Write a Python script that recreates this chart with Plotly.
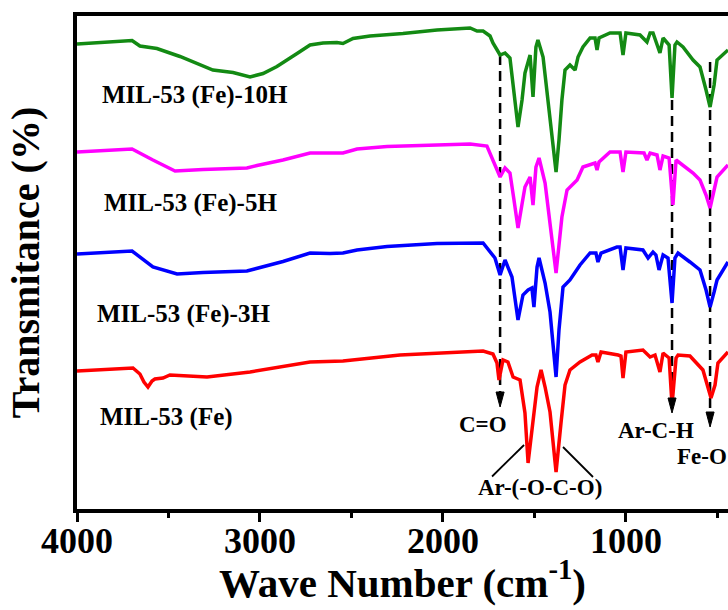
import plotly.graph_objects as go

# ---------------- data (wavenumber cm^-1, transmittance a.u., offset) ----------------
wn_10h = [4000, 3699, 3656, 3563, 3437, 3344, 3257, 3147, 3054, 2983, 2907, 2797, 2726, 2655, 2579,
          2546, 2491, 2398, 2218, 2032, 1851, 1813, 1780,
          1742, 1726, 1687, 1660, 1633, 1611, 1589, 1567, 1551, 1523, 1507, 1491, 1480, 1452, 1425,
          1403, 1381, 1365, 1349, 1332, 1305, 1277, 1261, 1234, 1195, 1168, 1157, 1146, 1086, 1031,
          1015, 999, 922, 884, 867, 851, 813, 796, 763, 747, 731, 720, 687, 632, 594, 561, 539, 517,
          501, 441]
tr_10h = [93.0, 93.7, 92.6, 92.1, 90.5, 89.1, 87.8, 87.3, 86.4, 87.1, 88.5, 91.1, 92.8, 93.2, 93.3,
          93.1, 94.1, 94.6, 95.1, 95.8, 96.2, 95.6, 95.6,
          94.6, 93.2, 90.8, 91.2, 90.2, 83.8, 76.4, 81.8, 87.2, 90.8, 82.4, 92.4, 93.8, 90.4, 81.8,
          73.8, 67.4, 73.8, 81.8, 87.8, 88.8, 87.8, 90.4, 92.4, 94.2, 94.2, 91.8, 94.2, 95.2, 95.2,
          90.8, 95.2, 94.8, 93.4, 95.2, 95.2, 91.2, 94.2, 92.8, 82.2, 92.8, 93.4, 92.4, 89.8, 88.4,
          83.8, 80.4, 84.8, 89.8, 91.8]

wn_5h = [4000, 3699, 3585, 3464, 3311, 3071, 3016, 2874, 2726, 2617, 2546, 2469, 2305, 2032, 1851,
         1759, 1726, 1687, 1660, 1633,
         1611, 1589, 1567, 1551, 1523, 1507, 1491, 1474, 1441, 1425, 1403, 1381, 1365, 1349, 1321,
         1266, 1234, 1168, 1157, 1146, 1086, 1031, 1015, 999, 900, 884, 867, 829, 813, 796, 763,
         742, 725, 687, 632, 594, 561, 539, 517, 501, 441]
tr_5h = [71.4, 72.0, 69.8, 67.6, 67.9, 68.2, 68.7, 69.8, 71.2, 71.3, 71.2, 72.0, 72.5, 72.8, 73.0,
         72.6, 69.8, 66.4, 68.2, 67.2,
         61.8, 56.2, 61.0, 64.4, 66.4, 60.8, 68.4, 70.2, 65.2, 60.4, 53.8, 47.2, 52.8, 58.4, 63.8,
         65.8, 68.4, 69.2, 67.8, 69.4, 71.4, 71.4, 67.4, 71.4, 71.2, 69.8, 71.2, 70.8, 67.8, 70.6,
         70.2, 60.8, 69.8, 68.8, 67.2, 65.8, 62.8, 60.2, 63.4, 66.4, 68.8]

wn_3h = [4000, 3699, 3585, 3453, 3311, 3071, 2874, 2726, 2617, 2546, 2469, 2305, 2032, 1851, 1780,
         1715, 1687, 1660, 1622,
         1589, 1562, 1534, 1513, 1502, 1485, 1474, 1441, 1414, 1398, 1381, 1365, 1343, 1305, 1250,
         1195, 1163, 1152, 1135, 1048, 1031, 1015, 999, 906, 878, 851, 835, 818, 796, 769, 747,
         731, 714, 649, 594, 561, 539, 517, 501, 441]
tr_3h = [51.0, 51.6, 48.4, 47.0, 47.3, 47.6, 49.5, 51.2, 51.1, 51.2, 51.8, 52.5, 53.1, 53.2, 53.2,
         50.2, 46.8, 49.8, 46.4,
         37.8, 42.8, 43.8, 44.2, 40.4, 48.4, 50.2, 45.2, 39.4, 32.8, 26.4, 35.8, 44.4, 45.8, 48.8,
         51.2, 51.2, 49.4, 51.2, 52.4, 52.4, 47.8, 52.2, 51.8, 50.2, 51.4, 50.8, 47.8, 50.8, 50.2,
         41.2, 50.2, 51.2, 49.4, 47.8, 43.8, 40.4, 43.4, 45.8, 49.4]

wn_fe = [4000, 3694, 3656, 3634, 3612, 3590, 3574, 3530, 3492, 3289, 3054, 2726, 2546, 2234, 1780,
         1726, 1704, 1693, 1682, 1671, 1644, 1616, 1578, 1551, 1534, 1518, 1507, 1485, 1463, 1441,
         1414, 1398, 1381, 1354, 1332, 1305, 1250, 1184, 1163, 1152, 1135, 1042, 1026, 1015, 999,
         906, 867, 840, 813, 796, 763, 747, 725, 714, 649, 578, 556, 534, 512, 496, 441]
tr_fe = [27.6, 28.2, 27.0, 25.4, 24.4, 25.6, 26.0, 26.2, 26.8, 26.4, 27.4, 29.4, 29.6, 30.8, 31.6,
         31.0, 29.2, 25.8, 27.8, 29.8, 29.4, 26.4, 25.8, 19.2, 9.2, 13.8, 17.8, 24.4, 27.8, 24.4,
         19.4, 13.8, 7.4, 17.2, 24.8, 27.8, 29.4, 30.8, 30.8, 29.4, 31.4, 30.8, 30.6, 26.2, 31.4,
         31.8, 30.4, 30.8, 27.4, 31.2, 30.2, 20.8, 30.2, 30.8, 30.6, 27.8, 24.8, 22.2, 24.8, 29.2,
         31.4]

series_names = ["MIL-53 (Fe)-10H", "MIL-53 (Fe)-5H", "MIL-53 (Fe)-3H", "MIL-53 (Fe)"]
series_colors = ["#138a13", "#ff00ff", "#0000ff", "#ff0000"]
label_pos = [(3874, 82.8), (3863, 61.2), (3902, 39.0), (3885, 18.4)]

x_major_ticks = [4000, 3000, 2000, 1000]
x_minor_ticks = [3500, 2500, 1500, 500]
x_tick_labels = ["4000", "3000", "2000", "1000"]

# band markers: (label, wavenumber, dashed line top, arrow tip, label x, label y)
bands = [("C=O", 1687, 90.8, 20.4, 1780, 17.0),
         ("Ar-C-H", 747, 81.8, 19.2, 835, 15.8),
         ("Fe-O", 539, 89.4, 16.4, 583, 10.6)]
oco_label = ("Ar-(-O-C-O)", 1469, 4.4)
oco_lines = [((1731, 6.5), (1556, 12.8)), ((1343, 12.4), (1179, 6.4))]

# ---------------- figure ----------------
FONT = "Liberation Serif"
fig = go.Figure()
for wn, tr, name, col in zip([wn_10h, wn_5h, wn_3h, wn_fe], [tr_10h, tr_5h, tr_3h, tr_fe],
                             series_names, series_colors):
    fig.add_trace(go.Scatter(x=wn, y=tr, mode="lines", name=name,
                             line=dict(color=col, width=3.5), showlegend=False))

annotations = []
for name, (lx, ly) in zip(series_names, label_pos):
    annotations.append(dict(x=lx, y=ly, text=name, showarrow=False, xanchor="left", yanchor="middle",
                            font=dict(family=FONT, size=25, color="black", weight="bold")))

# x tick labels (placed just under the tick marks)
for tv, tl in zip(x_major_ticks, x_tick_labels):
    annotations.append(dict(x=tv, y=0, xref="x", yref="paper", yanchor="middle", xanchor="center",
                            yshift=-32, text=tl, showarrow=False, borderpad=0,
                            font=dict(family=FONT, size=36, color="black", weight="bold")))

shapes = []
HEAD_HALF_W = 22   # cm^-1 (about 4 px)
HEAD_LEN = 3.0     # a.u. (about 15 px)
for lab, wn, ytop, ytip, tx, ty in bands:
    shapes.append(dict(type="line", x0=wn, x1=wn, y0=ytop, y1=ytip + HEAD_LEN, xref="x", yref="y",
                       line=dict(color="black", width=2.5, dash="10px,6px"), layer="below"))
    shapes.append(dict(type="path", xref="x", yref="y",
                       path=f"M {wn - HEAD_HALF_W},{ytip + HEAD_LEN} L {wn + HEAD_HALF_W},{ytip + HEAD_LEN} L {wn},{ytip} Z",
                       fillcolor="black", line=dict(color="black", width=1)))
    annotations.append(dict(x=tx, y=ty, text=lab, showarrow=False, xanchor="center", yanchor="middle",
                            font=dict(family=FONT, size=23, color="black", weight="bold")))

annotations.append(dict(x=oco_label[1], y=oco_label[2], text=oco_label[0], showarrow=False,
                        xanchor="center", yanchor="middle",
                        font=dict(family=FONT, size=23, color="black", weight="bold")))
for (x0, y0), (x1, y1) in oco_lines:
    shapes.append(dict(type="line", x0=x0, y0=y0, x1=x1, y1=y1, xref="x", yref="y",
                       line=dict(color="black", width=1.8)))

fig.update_layout(
    width=728, height=610,
    margin=dict(l=77, r=0, t=16, b=101),
    paper_bgcolor="white", plot_bgcolor="white",
    annotations=annotations, shapes=shapes,
    font=dict(family=FONT, color="black"),
)
fig.update_xaxes(
    range=[4000, 441], showgrid=False, zeroline=False,
    showline=True, linecolor="black", linewidth=4, mirror=True,
    ticks="outside", ticklen=9, tickwidth=3, tickcolor="black",
    tickvals=x_major_ticks, showticklabels=False,
    minor=dict(tickvals=x_minor_ticks, ticks="outside", ticklen=5, tickwidth=3, tickcolor="black"),
    title=dict(text="Wave Number (cm<sup>-1</sup>)", standoff=48,
               font=dict(family=FONT, size=41, color="black", weight="bold")),
)
fig.update_yaxes(
    range=[0, 98.6], showgrid=False, zeroline=False,
    showline=True, linecolor="black", linewidth=4,
    showticklabels=False, ticks="",
    title=dict(text="Transmitance (%)", standoff=22,
               font=dict(family=FONT, size=40, color="black", weight="bold")),
)
fig.write_html("out.html")
